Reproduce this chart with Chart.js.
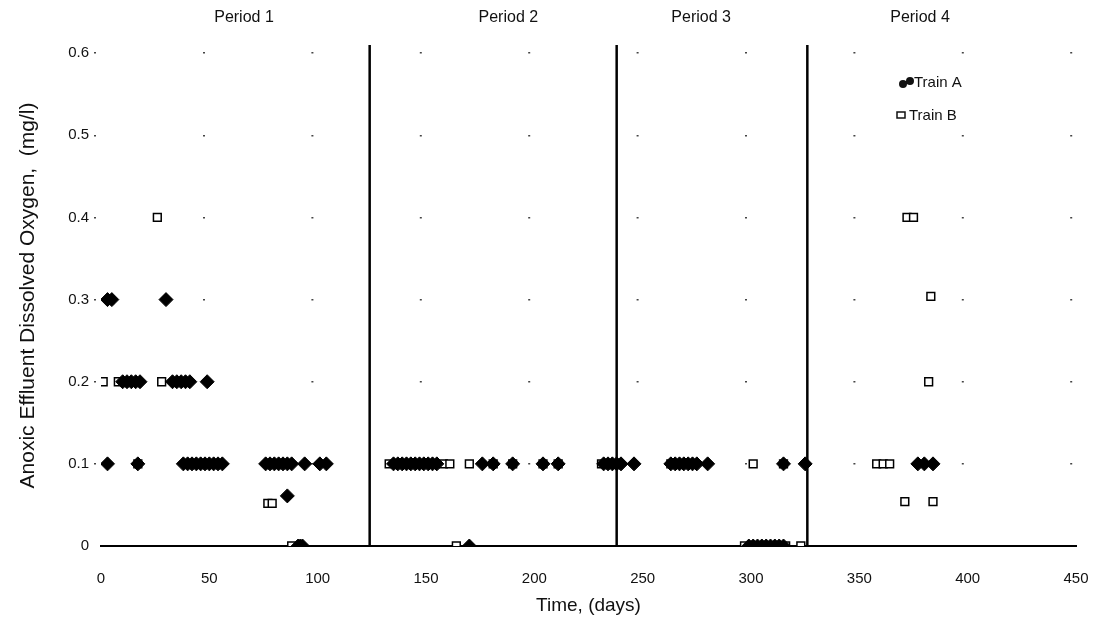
<!DOCTYPE html>
<html>
<head>
<meta charset="utf-8">
<script src="https://cdn.jsdelivr.net/npm/chart.js@4/dist/chart.umd.min.js"></script>
<style>
  html, body { margin: 0; padding: 0; background: #fff; }
  #wrap { width: 1093px; height: 627px; }
</style>
</head>
<body>
<div id="wrap"><canvas id="myChart" width="1093" height="627"></canvas></div>
<script>
// Train A (filled diamonds): day and dissolved oxygen (mg/l)
const trainADays = [
    3, 5, 30,
    10, 12, 14, 16, 18, 33, 35, 37, 39, 41, 49,
    3, 17, 38, 40, 42, 44, 46, 48, 50, 52, 54, 56,
    76, 78, 80, 82, 84, 86, 88, 94, 101, 104,
    135, 137, 139, 141, 143, 145, 147, 149, 151, 153, 155,
    176, 181, 190, 204, 211, 232, 234, 236, 238, 240, 246,
    263, 265, 267, 269, 271, 273, 275, 280, 315, 325, 377, 380, 384,
    86,
    91, 92, 93, 170, 299, 301, 303, 305, 307, 309, 311, 313, 315
];
const trainAValues = [
    0.3, 0.3, 0.3,
    0.2, 0.2, 0.2, 0.2, 0.2, 0.2, 0.2, 0.2, 0.2, 0.2, 0.2,
    0.1, 0.1, 0.1, 0.1, 0.1, 0.1, 0.1, 0.1, 0.1, 0.1, 0.1, 0.1,
    0.1, 0.1, 0.1, 0.1, 0.1, 0.1, 0.1, 0.1, 0.1, 0.1,
    0.1, 0.1, 0.1, 0.1, 0.1, 0.1, 0.1, 0.1, 0.1, 0.1, 0.1,
    0.1, 0.1, 0.1, 0.1, 0.1, 0.1, 0.1, 0.1, 0.1, 0.1, 0.1,
    0.1, 0.1, 0.1, 0.1, 0.1, 0.1, 0.1, 0.1, 0.1, 0.1, 0.1, 0.1, 0.1,
    0.061,
    0, 0, 0, 0, 0, 0, 0, 0, 0, 0, 0, 0, 0
];

// Train B (open squares)
const trainBDays = [
    26, 372, 375,
    4, 383,
    1, 8, 28, 382,
    17, 133, 158, 161, 170, 181, 190, 204, 211, 231, 263, 301, 315, 358, 361, 364,
    77, 79, 371, 384,
    88, 164, 297, 316, 323
];
const trainBValues = [
    0.4, 0.4, 0.4,
    0.3, 0.304,
    0.2, 0.2, 0.2, 0.2,
    0.1, 0.1, 0.1, 0.1, 0.1, 0.1, 0.1, 0.1, 0.1, 0.1, 0.1, 0.1, 0.1, 0.1, 0.1, 0.1,
    0.052, 0.052, 0.054, 0.054,
    0, 0, 0, 0, 0
];

// period boundaries (days) and period titles
const periodBoundaries = [124, 238, 326];
const periodLabels = ['Period 1', 'Period 2', 'Period 3', 'Period 4'];
const periodLabelDays = [66, 188, 277, 378];

const xTickValues = [0, 50, 100, 150, 200, 250, 300, 350, 400, 450];
const yTickValues = [0, 0.1, 0.2, 0.3, 0.4, 0.5, 0.6];

const FONT = '"Liberation Sans", Arial, sans-serif';

const toPoints = (xs, ys) => xs.map((x, i) => ({ x: x, y: ys[i] }));

const boundarySets = periodBoundaries.map(d => ({
    type: 'line',
    data: [{ x: d, y: 0 }, { x: d, y: 0.61 }],
    borderColor: '#000',
    borderWidth: 2.5,
    pointRadius: 0,
    showLine: true
}));

// period titles and the small legend in the top right corner
const annotations = {
    id: 'annotations',
    afterDraw(chart) {
        const { ctx, scales: { x } } = chart;
        ctx.save();
        ctx.fillStyle = '#111';
        ctx.font = '16px ' + FONT;
        ctx.textAlign = 'center';
        ctx.textBaseline = 'middle';
        periodLabels.forEach((label, i) => {
            ctx.fillText(label, x.getPixelForValue(periodLabelDays[i]), 18);
        });

        // legend
        ctx.textAlign = 'left';
        ctx.font = '15px ' + FONT;
        ctx.beginPath();
        ctx.arc(903, 84, 4, 0, Math.PI * 2);
        ctx.arc(910, 81, 4, 0, Math.PI * 2);
        ctx.fill();
        ctx.fillText('Train A', 914, 83);
        ctx.strokeStyle = '#111';
        ctx.lineWidth = 1.5;
        ctx.strokeRect(897, 112, 8, 6);
        ctx.fillText('Train B', 909, 116);
        ctx.restore();
    }
};

const chart = new Chart(document.getElementById('myChart').getContext('2d'), {
    type: 'scatter',
    data: {
        datasets: [
            {
                label: 'Train A',
                data: toPoints(trainADays, trainAValues),
                pointStyle: 'rectRot',
                pointRadius: 7,
                backgroundColor: '#000',
                borderColor: '#000',
                borderWidth: 1
            },
            {
                label: 'Train B',
                data: toPoints(trainBDays, trainBValues),
                pointStyle: 'rect',
                pointRadius: 5.5,
                backgroundColor: '#fff',
                borderColor: '#000',
                borderWidth: 1.5
            },
            ...boundarySets
        ]
    },
    options: {
        responsive: false,
        animation: false,
        layout: { padding: { top: 45, right: 17, bottom: 4, left: 14 } },
        plugins: {
            legend: { display: false },
            tooltip: { enabled: false }
        },
        scales: {
            x: {
                type: 'linear',
                min: 0,
                max: 450,
                afterBuildTicks: s => { s.ticks = xTickValues.map(v => ({ value: v })); },
                afterFit: s => { s.height = 77; s.paddingLeft = 0; s.paddingRight = 0; },
                grid: { display: false },
                border: { display: true, color: '#000', width: 2 },
                ticks: { padding: 16, color: '#111', font: { family: FONT, size: 15 } },
                title: {
                    display: true,
                    text: 'Time, (days)',
                    color: '#111',
                    font: { family: FONT, size: 19 },
                    padding: { top: 4, bottom: 6 }
                }
            },
            y: {
                type: 'linear',
                min: 0,
                max: 0.61,
                afterBuildTicks: s => { s.ticks = yTickValues.map(v => ({ value: v })); },
                afterFit: s => { s.width = 87; },
                border: { display: false, dash: [2, 106.4], dashOffset: 6.4 },
                grid: {
                    color: ctx => ctx.tick && ctx.tick.value === 0 ? 'rgba(0,0,0,0)' : '#444',
                    lineWidth: 1.5,
                    tickLength: 7,
                    tickBorderDash: [2, 10]
                },
                ticks: {
                    padding: 5,
                    color: '#111',
                    font: { family: FONT, size: 15 },
                    callback: v => v === 0 ? '0' : v.toFixed(1)
                },
                title: {
                    display: true,
                    text: 'Anoxic Effluent Dissolved Oxygen,  (mg/l)',
                    color: '#111',
                    font: { family: FONT, size: 21 },
                    padding: { top: 2, bottom: 4 }
                }
            }
        }
    },
    plugins: [annotations]
});
</script>
</body>
</html>
